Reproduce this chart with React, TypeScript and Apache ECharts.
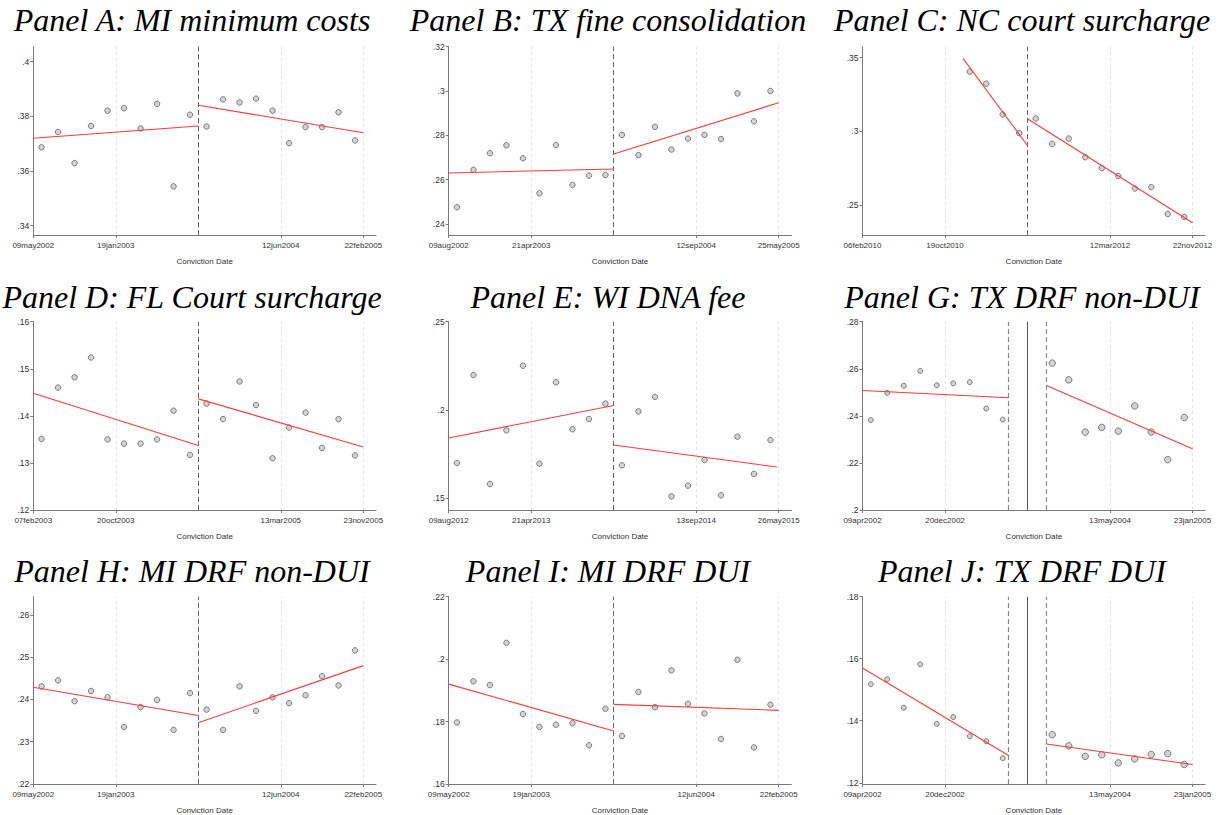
import React, { useEffect, useRef } from "react";
import * as echarts from "echarts";

// Bin centres, in units of one x-axis tick step (tick 0 = first date label)
const binsLeft = [0.1, 0.3, 0.5, 0.7, 0.9, 1.1, 1.3, 1.5, 1.7, 1.9];
const binsRight = [2.1, 2.3, 2.5, 2.7, 2.9, 3.1, 3.3, 3.5, 3.7, 3.9];
const binsLeftC = [1.3, 1.5, 1.7, 1.9];
const binsLeftDonut = [0.1, 0.3, 0.5, 0.7, 0.9, 1.1, 1.3, 1.5, 1.7];
const binsRightDonut = [2.3, 2.5, 2.7, 2.9, 3.1, 3.3, 3.5, 3.7, 3.9];

// Positions of the labelled date ticks (the cutoff tick carries no label)
const dateTicks = [0, 1, 3, 4];
const xMax = 4.154;

// Tick labels
const datesA = ["09may2002", "19jan2003", "12jun2004", "22feb2005"];
const datesB = ["09aug2002", "21apr2003", "12sep2004", "25may2005"];
const datesC = ["06feb2010", "19oct2010", "12mar2012", "22nov2012"];
const datesD = ["07feb2003", "20oct2003", "13mar2005", "23nov2005"];
const datesE = ["09aug2012", "21apr2013", "13sep2014", "26may2015"];
const datesG = ["09apr2002", "20dec2002", "13may2004", "23jan2005"];

// Panel A: MI minimum costs
const aLeft = [0.3687, 0.3743, 0.3629, 0.3765, 0.3821, 0.383, 0.3756, 0.3846, 0.3544, 0.3806];
const aRight = [0.3763, 0.3862, 0.3851, 0.3865, 0.3821, 0.3702, 0.3761, 0.3761, 0.3815, 0.3712];
const aFitLeft = [[0, 0.372], [2, 0.3765]];
const aFitRight = [[2, 0.3841], [4, 0.374]];

// Panel B: TX fine consolidation
const bLeft = [0.2475, 0.2644, 0.2719, 0.2755, 0.2696, 0.2538, 0.2756, 0.2576, 0.2618, 0.2621];
const bRight = [0.2802, 0.2711, 0.2838, 0.2736, 0.2785, 0.2802, 0.2783, 0.2989, 0.2863, 0.3];
const bFitLeft = [[0, 0.263], [2, 0.2648]];
const bFitRight = [[2, 0.2716], [4, 0.2947]];

// Panel C: NC court surcharge
const cLeft = [0.3405, 0.3324, 0.3115, 0.2989];
const cRight = [0.3088, 0.2916, 0.2952, 0.2826, 0.2752, 0.2698, 0.2614, 0.2623, 0.2441, 0.2421];
const cFitLeft = [[1.22, 0.3493], [2, 0.2905]];
const cFitRight = [[2, 0.3086], [4, 0.2382]];

// Panel D: FL Court surcharge
const dLeft = [0.1351, 0.146, 0.1482, 0.1524, 0.135, 0.1341, 0.1341, 0.135, 0.1411, 0.1317];
const dRight = [0.1426, 0.1393, 0.1473, 0.1423, 0.131, 0.1375, 0.1407, 0.1332, 0.1393, 0.1316];
const dFitLeft = [[0, 0.1448], [2, 0.1337]];
const dFitRight = [[2, 0.1436], [4, 0.1334]];

// Panel E: WI DNA fee
const eLeft = [0.17, 0.2198, 0.1581, 0.1885, 0.2251, 0.1696, 0.2157, 0.1891, 0.1949, 0.2036];
const eRight = [0.1687, 0.1992, 0.2075, 0.1511, 0.1572, 0.1717, 0.1517, 0.1849, 0.1638, 0.183];
const eFitLeft = [[0, 0.1842], [2, 0.2026]];
const eFitRight = [[2, 0.1802], [3.98, 0.1677]];

// Panel G: TX DRF non-DUI
const gLeft = [0.2382, 0.2498, 0.2528, 0.2591, 0.253, 0.2538, 0.2543, 0.2431, 0.2384];
const gRight = [0.2624, 0.2553, 0.2331, 0.2351, 0.2335, 0.2442, 0.2331, 0.2214, 0.2393];
const gFitLeft = [[0, 0.2508], [1.77, 0.2477]];
const gFitRight = [[2.23, 0.2529], [4, 0.226]];

// Panel H: MI DRF non-DUI
const hLeft = [0.2431, 0.2445, 0.2396, 0.242, 0.2405, 0.2335, 0.2382, 0.2399, 0.2328, 0.2415];
const hRight = [0.2376, 0.2328, 0.2431, 0.2373, 0.2405, 0.2391, 0.241, 0.2455, 0.2433, 0.2516];
const hFitLeft = [[0, 0.2429], [2, 0.2362]];
const hFitRight = [[2, 0.2345], [4, 0.248]];

// Panel I: MI DRF DUI
const iLeft = [0.1797, 0.1929, 0.1917, 0.2052, 0.1824, 0.1783, 0.179, 0.1795, 0.1724, 0.1841];
const iRight = [0.1754, 0.1895, 0.1846, 0.1964, 0.1857, 0.1826, 0.1744, 0.1998, 0.1717, 0.1854];
const iFitLeft = [[0, 0.192], [2, 0.177]];
const iFitRight = [[2, 0.1855], [4, 0.1836]];

// Panel J: TX DRF DUI
const jLeft = [0.1518, 0.1534, 0.1442, 0.1582, 0.139, 0.1412, 0.135, 0.1334, 0.1279];
const jRight = [0.1355, 0.1319, 0.1285, 0.129, 0.1264, 0.1277, 0.1291, 0.1294, 0.1259];
const jFitLeft = [[0, 0.157], [1.77, 0.1288]];
const jFitRight = [[2.23, 0.1325], [4, 0.1259]];

// Regression-discontinuity cutoffs: single date, or a donut window around it
const cutoffSingle = [2];
const donutEdges = [1.77, 2.23];
const donutCentre = 2;

type Panel = {
  title: string;
  dates: string[];
  xl: number[];
  yl: number[];
  xr: number[];
  yr: number[];
  fitL: number[][];
  fitR: number[][];
  yTicks: number[];
  yMin: number;
  yMax: number;
  donut: boolean;
};

const panels: Panel[] = [
  { title: "Panel A: MI minimum costs", dates: datesA, xl: binsLeft, yl: aLeft, xr: binsRight, yr: aRight, fitL: aFitLeft, fitR: aFitRight, yTicks: [0.34, 0.36, 0.38, 0.4], yMin: 0.3366, yMax: 0.4055, donut: false },
  { title: "Panel B: TX fine consolidation", dates: datesB, xl: binsLeft, yl: bLeft, xr: binsRight, yr: bRight, fitL: bFitLeft, fitR: bFitRight, yTicks: [0.24, 0.26, 0.28, 0.3, 0.32], yMin: 0.235, yMax: 0.32, donut: false },
  { title: "Panel C: NC court surcharge", dates: datesC, xl: binsLeftC, yl: cLeft, xr: binsRight, yr: cRight, fitL: cFitLeft, fitR: cFitRight, yTicks: [0.25, 0.3, 0.35], yMin: 0.2299, yMax: 0.3574, donut: false },
  { title: "Panel D: FL Court surcharge", dates: datesD, xl: binsLeft, yl: dLeft, xr: binsRight, yr: dRight, fitL: dFitLeft, fitR: dFitRight, yTicks: [0.12, 0.13, 0.14, 0.15, 0.16], yMin: 0.12, yMax: 0.16, donut: false },
  { title: "Panel E: WI DNA fee", dates: datesE, xl: binsLeft, yl: eLeft, xr: binsRight, yr: eRight, fitL: eFitLeft, fitR: eFitRight, yTicks: [0.15, 0.2, 0.25], yMin: 0.1434, yMax: 0.25, donut: false },
  { title: "Panel G: TX DRF non-DUI", dates: datesG, xl: binsLeftDonut, yl: gLeft, xr: binsRightDonut, yr: gRight, fitL: gFitLeft, fitR: gFitRight, yTicks: [0.2, 0.22, 0.24, 0.26, 0.28], yMin: 0.2, yMax: 0.28, donut: true },
  { title: "Panel H: MI DRF non-DUI", dates: datesA, xl: binsLeft, yl: hLeft, xr: binsRight, yr: hRight, fitL: hFitLeft, fitR: hFitRight, yTicks: [0.22, 0.23, 0.24, 0.25, 0.26], yMin: 0.22, yMax: 0.2643, donut: false },
  { title: "Panel I: MI DRF DUI", dates: datesA, xl: binsLeft, yl: iLeft, xr: binsRight, yr: iRight, fitL: iFitLeft, fitR: iFitRight, yTicks: [0.16, 0.18, 0.2, 0.22], yMin: 0.16, yMax: 0.22, donut: false },
  { title: "Panel J: TX DRF DUI", dates: datesG, xl: binsLeftDonut, yl: jLeft, xr: binsRightDonut, yr: jRight, fitL: jFitLeft, fitR: jFitRight, yTicks: [0.12, 0.14, 0.16, 0.18], yMin: 0.1196, yMax: 0.18, donut: true },
];

// Layout of the 3 x 3 panel grid
const colLeft = [33.3, 448.7, 862.5];
const colTitleX = [192, 608, 1022];
const rowTop = [46.7, 321.7, 596.7];
const rowTitleY = [20, 297, 571];
const plotW = 342.7;
const plotH = 188.3;

const AXIS_GREY = "#7a7a7a";
const TEXT_GREY = "#333";
const SANS = "Liberation Sans";
const SERIF = "Liberation Serif";

const stripZero = (v: number) => String(+v.toFixed(4)).replace(/^0\./, ".");

function buildOption() {
  const grid: any[] = [];
  const xAxis: any[] = [];
  const yAxis: any[] = [];
  const series: any[] = [];
  const graphic: any[] = [];

  panels.forEach((p, i) => {
    const col = i % 3;
    const row = Math.floor(i / 3);
    grid.push({ left: colLeft[col], top: rowTop[row], width: plotW, height: plotH, containLabel: false });

    xAxis.push({
      type: "value",
      gridIndex: i,
      min: 0,
      max: xMax,
      name: "Conviction Date",
      nameLocation: "middle",
      nameGap: 22,
      nameTextStyle: { fontFamily: SANS, fontSize: 8, color: TEXT_GREY },
      axisLine: { show: true, onZero: false, lineStyle: { color: AXIS_GREY, width: 1 } },
      axisTick: { show: true, length: 3, customValues: dateTicks, lineStyle: { color: AXIS_GREY } },
      axisLabel: {
        customValues: dateTicks,
        fontFamily: SANS,
        fontSize: 8,
        color: TEXT_GREY,
        margin: 6,
        formatter: (v: number) => p.dates[dateTicks.indexOf(v)] ?? "",
      },
      splitLine: { show: false },
    });

    yAxis.push({
      type: "value",
      gridIndex: i,
      min: p.yMin,
      max: p.yMax,
      axisLine: { show: true, onZero: false, lineStyle: { color: AXIS_GREY, width: 1 } },
      axisTick: { show: true, length: 3, customValues: p.yTicks, lineStyle: { color: AXIS_GREY } },
      axisLabel: {
        customValues: p.yTicks,
        fontFamily: SANS,
        fontSize: 8.5,
        color: TEXT_GREY,
        margin: 4,
        formatter: (v: number) => stripZero(v),
      },
      splitLine: { show: false },
    });

    // Light vertical grid at the labelled dates, plus cutoff marker(s)
    const gridLines = dateTicks
      .filter((t) => t > 0)
      .map((t) => ({ xAxis: t, lineStyle: { color: "#e4e4e4", width: 1, type: [3, 3] } }));
    const cutLines = p.donut
      ? [
          ...donutEdges.map((t) => ({ xAxis: t, lineStyle: { color: "#8a8a8a", width: 1.2, type: [5, 3] } })),
          { xAxis: donutCentre, lineStyle: { color: "#555", width: 1, type: "solid" } },
        ]
      : cutoffSingle.map((t) => ({ xAxis: t, lineStyle: { color: "#666", width: 1, type: [5, 3] } }));

    const markerSizeL = p.donut ? 5 : 5.5;
    const markerSizeR = p.donut ? 6.5 : 5.5;
    const markerStyle = { color: "#c8c8c8", borderColor: "#555", borderWidth: 0.9 };

    series.push({
      type: "scatter",
      xAxisIndex: i,
      yAxisIndex: i,
      symbol: "circle",
      symbolSize: markerSizeL,
      itemStyle: markerStyle,
      data: p.xl.map((x, k) => [x, p.yl[k]]),
      z: 3,
      markLine: {
        silent: true,
        symbol: ["none", "none"],
        label: { show: false },
        emphasis: { disabled: true },
        data: [...gridLines, ...cutLines],
        z: 1,
      },
    });
    series.push({
      type: "scatter",
      xAxisIndex: i,
      yAxisIndex: i,
      symbol: "circle",
      symbolSize: markerSizeR,
      itemStyle: markerStyle,
      data: p.xr.map((x, k) => [x, p.yr[k]]),
      z: 3,
    });
    [p.fitL, p.fitR].forEach((fit) => {
      series.push({
        type: "line",
        xAxisIndex: i,
        yAxisIndex: i,
        data: fit,
        showSymbol: false,
        symbol: "none",
        lineStyle: { color: "#ff3b3b", width: 1.1 },
        z: 4,
      });
    });

    graphic.push({
      type: "text",
      x: colTitleX[col],
      y: rowTitleY[row],
      style: {
        text: p.title,
        fontFamily: SERIF,
        fontStyle: "italic",
        fontSize: 32,
        fill: "#000",
        textAlign: "center",
        textVerticalAlign: "middle",
      },
    });
  });

  return {
    animation: false,
    backgroundColor: "#fff",
    grid,
    xAxis,
    yAxis,
    series,
    graphic,
  };
}

export default function App() {
  const ref = useRef<HTMLDivElement>(null);
  useEffect(() => {
    if (!ref.current) return;
    const chart = echarts.init(ref.current, undefined, { renderer: "svg" });
    chart.setOption(buildOption() as any);
    return () => chart.dispose();
  }, []);
  return (
    <div
      ref={ref}
      style={{ position: "absolute", left: 0, top: 0, width: 1221, height: 815, background: "#fff" }}
    />
  );
}
